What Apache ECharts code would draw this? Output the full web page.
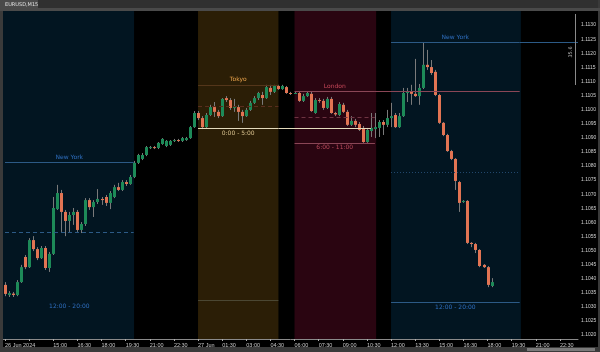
<!DOCTYPE html>
<html><head><meta charset="utf-8">
<script src="https://cdn.jsdelivr.net/npm/echarts@6/dist/echarts.min.js"></script>
<style>html,body{margin:0;padding:0;background:#000;}#c{width:600px;height:352px;}</style>
</head><body><div id="c"></div>
<script>
// ---- data (EURUSD, 15-minute bars) ----
const barCount = 143;
const openP = [
1.10378,1.10342,1.10347,1.10342,1.10388,1.10477,1.10441,1.10537,1.10505,1.10473,
1.10509,1.10438,1.10488,1.10647,1.10704,1.10637,1.10605,1.10626,1.10637,1.10573,
1.10594,1.10679,1.10654,1.10672,1.10683,1.10690,1.10669,1.10690,1.10725,1.10715,
1.10743,1.10736,1.10761,1.10811,1.10825,1.10839,1.10864,1.10867,1.10864,1.10878,
1.10871,1.10875,1.10889,1.10892,1.10889,1.10892,1.10899,1.10938,1.10988,1.10970,
1.10938,1.10981,1.11009,1.10992,1.10977,1.11041,1.11034,1.11006,1.11009,1.10992,
1.10977,1.10999,1.11024,1.11041,1.11052,1.11041,1.11077,1.11063,1.11084,1.11073,
1.11080,1.11059,1.11057,1.11059,1.11031,1.11048,1.11056,1.10988,1.11034,1.11031,
1.11006,1.11038,1.10988,1.10981,1.11017,1.10992,1.10946,1.10960,1.10949,1.10935,
1.10885,1.10924,1.10931,1.10935,1.10956,1.10946,1.10970,1.10981,1.10938,1.10977,
1.11059,1.11063,1.11056,1.11048,1.11077,1.11159,1.11151,1.11134,1.11052,1.10953,
1.10910,1.10853,1.10825,1.10743,1.10672,1.10676,1.10527,1.10523,1.10502,1.10449,
1.10441,1.10374];
const closeP = [
1.10346,1.10349,1.10342,1.10388,1.10441,1.10441,1.10537,1.10505,1.10473,1.10509,
1.10438,1.10488,1.10651,1.10704,1.10637,1.10605,1.10626,1.10637,1.10573,1.10594,
1.10679,1.10654,1.10672,1.10683,1.10679,1.10669,1.10704,1.10725,1.10715,1.10743,
1.10736,1.10761,1.10811,1.10839,1.10839,1.10867,1.10867,1.10864,1.10882,1.10896,
1.10889,1.10889,1.10892,1.10889,1.10899,1.10899,1.10938,1.10988,1.10970,1.10938,
1.10981,1.11009,1.10992,1.10977,1.11038,1.11034,1.11006,1.11009,1.10992,1.10977,
1.10999,1.11024,1.11041,1.11059,1.11041,1.11080,1.11063,1.11084,1.11073,1.11084,
1.11059,1.11057,1.11059,1.11031,1.11048,1.11059,1.10995,1.11034,1.11031,1.11006,
1.11038,1.10988,1.10983,1.11020,1.10992,1.10946,1.10960,1.10946,1.10928,1.10885,
1.10928,1.10935,1.10938,1.10956,1.10946,1.10970,1.10977,1.10938,1.10977,1.11059,
1.11063,1.11056,1.11048,1.11077,1.11159,1.11151,1.11130,1.11052,1.10953,1.10910,
1.10853,1.10825,1.10747,1.10669,1.10676,1.10527,1.10523,1.10502,1.10445,1.10441,
1.10378,1.10388];
const highP = [
1.10388,1.10356,1.10353,1.10395,1.10449,1.10484,1.10544,1.10551,1.10512,1.10516,
1.10516,1.10495,1.10690,1.10733,1.10715,1.10644,1.10637,1.10651,1.10644,1.10601,
1.10686,1.10686,1.10679,1.10718,1.10690,1.10697,1.10711,1.10733,1.10740,1.10750,
1.10750,1.10768,1.10818,1.10843,1.10846,1.10871,1.10871,1.10871,1.10885,1.10899,
1.10892,1.10892,1.10896,1.10896,1.10903,1.10903,1.10942,1.10995,1.10995,1.10977,
1.10988,1.11017,1.11027,1.10999,1.11041,1.11048,1.11041,1.11038,1.11017,1.10999,
1.11006,1.11031,1.11048,1.11063,1.11063,1.11088,1.11088,1.11088,1.11088,1.11088,
1.11084,1.11063,1.11063,1.11063,1.11056,1.11063,1.11063,1.11041,1.11041,1.11038,
1.11045,1.11045,1.10992,1.11027,1.11024,1.10999,1.10977,1.10967,1.10956,1.10942,
1.10935,1.10988,1.10988,1.10963,1.10963,1.10999,1.11024,1.10988,1.10988,1.11077,
1.11077,1.11088,1.11180,1.11091,1.11240,1.11212,1.11176,1.11141,1.11056,1.10956,
1.10914,1.10857,1.10828,1.10747,1.10679,1.10679,1.10530,1.10527,1.10505,1.10452,
1.10445,1.10402];
const lowP = [
1.10338,1.10335,1.10335,1.10338,1.10385,1.10434,1.10438,1.10498,1.10466,1.10470,
1.10431,1.10424,1.10484,1.10644,1.10566,1.10551,1.10566,1.10591,1.10566,1.10562,
1.10587,1.10644,1.10619,1.10665,1.10662,1.10658,1.10647,1.10686,1.10711,1.10711,
1.10729,1.10733,1.10757,1.10807,1.10821,1.10835,1.10860,1.10860,1.10860,1.10875,
1.10867,1.10871,1.10885,1.10885,1.10885,1.10889,1.10896,1.10935,1.10963,1.10931,
1.10935,1.10977,1.10974,1.10970,1.10974,1.11027,1.10999,1.10992,1.10960,1.10953,
1.10974,1.10995,1.11020,1.11034,1.11017,1.11038,1.11052,1.11059,1.11070,1.11070,
1.11056,1.11052,1.11056,1.11027,1.11027,1.11045,1.10992,1.10985,1.11024,1.10999,
1.11002,1.10985,1.10977,1.10977,1.10988,1.10942,1.10942,1.10938,1.10924,1.10882,
1.10882,1.10903,1.10899,1.10903,1.10910,1.10938,1.10938,1.10935,1.10935,1.10974,
1.11027,1.11017,1.11045,1.11017,1.11073,1.11141,1.11123,1.11048,1.10949,1.10906,
1.10850,1.10821,1.10715,1.10637,1.10669,1.10523,1.10512,1.10491,1.10441,1.10438,
1.10370,1.10370];

// time axis: one tick every 6 bars
const timeTicks = [0,6,12,18,24,30,36,42,48,54,60,66,72,78,84,90,96,102,108,114,120,126,132,138];
const timeLabels = ['26 Jun 2024','','15:00','16:30','18:00','19:30','21:00','22:30',
 '27 Jun','01:30','03:00','04:30','06:00','07:30','09:00','10:30','12:00','13:30','15:00',
 '16:30','18:00','19:30','21:00','22:30'];
// price axis ticks
const priceTicks = [1.1020,1.1025,1.1030,1.1035,1.1040,1.1045,1.1050,1.1055,1.1060,1.1065,
 1.1070,1.1075,1.1080,1.1085,1.1090,1.1095,1.1100,1.1105,1.1110,1.1115,1.1120,1.1125,1.1130];
const priceMin = 1.10186, priceMax = 1.11350;

// sessions
const sessionNames = ['New York','Tokyo','London','New York'];
const sessionHours = ['12:00 - 20:00','0:00 - 5:00','6:00 - 11:00','12:00 - 20:00'];
const sessionStart = [-0.5, 48, 72, 96];
const sessionEnd = [32.1, 68, 92.3, 128.3];
const sessionHigh = [1.10814, 1.11088, 1.11066, 1.11240];
const sessionMid = [1.10566, 1.11013, 1.10974, 1.10779];
const sessionLow = [1.10321, 1.10935, 1.10882, 1.10317];
// level extensions
const extSession = [1, 2, 3];
const extLevel = ['low', 'high', 'high'];
const extTo = [91, 128, 142.5];
const tokyoFloor = 1.10324;

// ---- styles ----
const FONT = 'DejaVu Sans';
const AXFONT = 'Liberation Sans';
const UP = '#1d8a58', DOWN = '#e27453', WICK = '#7a7a7a';
const sty = [
 {box:'#021521', hi:'#2c5a86', mid:'#2c5a86', lo:'rgba(0,0,0,0)', name:'#2f6fc0', hours:'#2f6fc0', midType:[4,3]},
 {box:'#2b1e06', hi:'#54361a', mid:'#5a2e1e', lo:'#e4dabc', name:'#e8a24a', hours:'#d9c28e', midType:[4,3]},
 {box:'#2a0511', hi:'#8a4656', mid:'#6e3442', lo:'#8a4656', name:'#c8485a', hours:'#b94a5c', midType:[4,3]},
 {box:'#021521', hi:'#2c5a86', mid:'#23496e', lo:'#2c5a86', name:'#2f6fc0', hours:'#2f6fc0', midType:[1,2]}
];

const boxes = sessionStart.map((s, k) => [
  {xAxis: s, yAxis: priceMin, itemStyle: {color: sty[k].box}},
  {xAxis: sessionEnd[k], yAxis: priceMax}
]);

function seg(x0, x1, y, color, type, label) {
  const o = [{coord: [x0, y], lineStyle: {color: color, width: 1, type: type || 'solid'}},
             {coord: [x1, y]}];
  o[0].label = label ? label : {show: false};
  return o;
}
const lines = [];
sessionStart.forEach((s, k) => {
  const a = Math.max(0, Math.round(s)), b = Math.round(sessionEnd[k]);
  lines.push(seg(a, b, sessionHigh[k], sty[k].hi, 'solid',
    {show: true, position: 'insideMiddleTop', distance: 2, formatter: sessionNames[k],
     color: sty[k].name, fontSize: 6, fontFamily: FONT}));
  lines.push(seg(a, b, sessionMid[k], sty[k].mid, sty[k].midType));
  lines.push(seg(a, b, sessionLow[k], sty[k].lo, 'solid',
    {show: true, position: 'insideMiddleBottom', distance: 2, formatter: sessionHours[k],
     color: sty[k].hours, fontSize: 6, fontFamily: FONT}));
});
extSession.forEach((k, j) => {
  const v = extLevel[j] === 'high' ? sessionHigh[k] : sessionLow[k];
  const c = extLevel[j] === 'high' ? sty[k].hi : sty[k].lo;
  lines.push(seg(Math.round(sessionEnd[k]), extTo[j], v, c, 'solid'));
});
lines.push(seg(48, 68, tokyoFloor, '#4b4733', 'solid'));

const candleData = openP.map((o, i) => [i, o, closeP[i], lowP[i], highP[i]]);

function renderCandle(params, api) {
  const i = api.value(0), o = api.value(1), c = api.value(2), l = api.value(3), h = api.value(4);
  const pH = api.coord([i, h]), pL = api.coord([i, l]);
  const pO = api.coord([i, o]), pC = api.coord([i, c]);
  const x = Math.round(pH[0]) + 0.5;
  const bw = 3;
  const top = Math.min(pO[1], pC[1]);
  const hgt = Math.max(1, Math.abs(pO[1] - pC[1]));
  const col = c >= o ? UP : DOWN;
  return {
    type: 'group',
    children: [
      {type: 'line', shape: {x1: x, y1: pH[1], x2: x, y2: pL[1]},
       style: {stroke: WICK, lineWidth: 1}},
      {type: 'rect', shape: {x: x - 1.5, y: top, width: bw, height: hgt},
       style: {fill: col}}
    ]
  };
}

const chart = echarts.init(document.getElementById('c'), null, {renderer: 'canvas'});
chart.setOption({
  animation: false,
  backgroundColor: '#000',
  textStyle: {fontFamily: FONT},
  grid: {left: 3, right: 22, top: 11, bottom: 13, containLabel: false, outerBoundsMode: 'none'},
  xAxis: {
    type: 'value', min: -0.5, max: barCount - 0.5,
    axisLine: {show: true, onZero: false, lineStyle: {color: '#8a8a8a'}},
    axisTick: {show: true, customValues: timeTicks, length: 2, lineStyle: {color: '#b0b0b0'}},
    axisLabel: {show: true, customValues: timeTicks, align: 'left', margin: 3, fontSize: 5.5,
      color: '#c8c8c8', fontFamily: AXFONT,
      formatter: (v) => { const k = timeTicks.indexOf(Math.round(v)); return k >= 0 ? timeLabels[k] : ''; }},
    splitLine: {show: false}
  },
  yAxis: {
    type: 'value', min: priceMin, max: priceMax, position: 'right', scale: true,
    axisLine: {show: true, lineStyle: {color: '#b4b4b4'}},
    axisTick: {show: true, customValues: priceTicks, length: 2, lineStyle: {color: '#b4b4b4'}},
    axisLabel: {show: true, customValues: priceTicks, margin: 3, fontSize: 5, color: '#d0d0d0',
      fontFamily: AXFONT, formatter: (v) => v.toFixed(4)},
    splitLine: {show: false}
  },
  series: [
    {type: 'line', data: [], z: 0, silent: true,
     markArea: {silent: true, data: boxes}},
    {type: 'custom', data: candleData, z: 2, silent: true, clip: true,
     encode: {x: 0, y: [1, 2, 3, 4]}, renderItem: renderCandle},
    {type: 'line', data: [], z: 3, silent: true,
     markLine: {silent: true, symbol: ['none', 'none'], animation: false, data: lines}}
  ],
  graphic: [
    {type: 'rect', shape: {x: 0, y: 0, width: 600, height: 11}, style: {fill: '#303030'}, z: 100},
    {type: 'rect', shape: {x: 0, y: 8, width: 600, height: 3}, style: {fill: '#4a4a4a'}, z: 101},
    {type: 'rect', shape: {x: 0, y: 0, width: 38, height: 9}, style: {fill: '#4a4a4a'}, z: 101},
    {type: 'text', x: 5, y: 5, style: {text: 'EURUSD,M15', fill: '#e0e0e0', fontSize: 5,
     fontFamily: FONT, verticalAlign: 'middle'}, z: 102},
    {type: 'rect', shape: {x: 0, y: 0, width: 3, height: 352}, style: {fill: '#3a3a3a'}, z: 100},
    {type: 'rect', shape: {x: 598, y: 0, width: 2, height: 352}, style: {fill: '#3a3a3a'}, z: 100},
    {type: 'rect', shape: {x: 0, y: 347, width: 600, height: 5}, style: {fill: '#3a3a3a'}, z: 100},
    {type: 'rect', shape: {x: 527, y: 348, width: 68, height: 3}, style: {fill: '#7a7a7a'}, z: 101},
    {type: 'line', shape: {x1: 575.5, y1: 14, x2: 575.5, y2: 85}, style: {stroke: '#8a8a8a', lineWidth: 1}, z: 100},
    {type: 'text', x: 571, y: 52, rotation: Math.PI / 2, style: {text: '35.6', fill: '#bbbbbb',
     fontSize: 5, fontFamily: FONT, align: 'center', verticalAlign: 'middle'}, z: 101}
  ]
});
</script></body></html>
